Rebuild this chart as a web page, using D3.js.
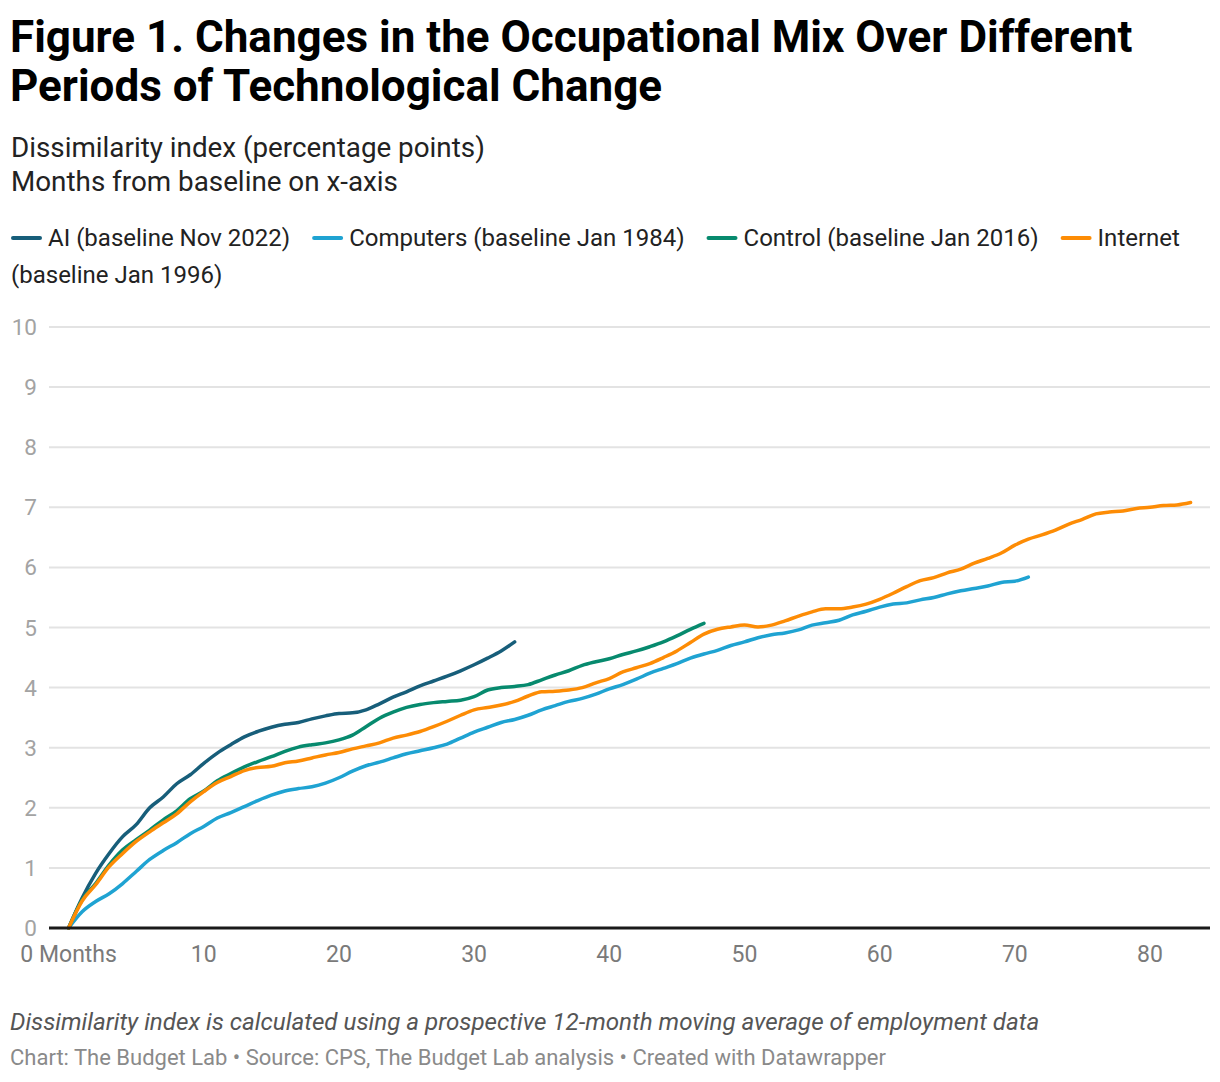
<!DOCTYPE html>
<html>
<head>
<meta charset="utf-8">
<script src="https://cdn.jsdelivr.net/npm/d3@7"></script>
<style>
  html, body { margin: 0; padding: 0; background: #fff; }
  svg { display: block; font-family: Roboto, "Noto Sans", sans-serif; }
</style>
</head>
<body>
<svg id="chart" width="1220" height="1082"></svg>
<script>
// months from baseline
const seriesNames = ["AI (baseline Nov 2022)", "Computers (baseline Jan 1984)", "Control (baseline Jan 2016)", "Internet (baseline Jan 1996)"];
const seriesColors = ["#175e7a", "#1fa3d2", "#078a6e", "#fd8c05"];

const aiValues = [0, 0.50, 0.91, 1.24, 1.52, 1.72, 2.00, 2.18, 2.40, 2.55, 2.74, 2.91, 3.05, 3.18, 3.27, 3.34, 3.39, 3.42, 3.48, 3.53,
  3.57, 3.58, 3.63, 3.73, 3.84, 3.93, 4.03, 4.11, 4.19, 4.28, 4.38, 4.49, 4.61, 4.76];

const computersValues = [0, 0.27, 0.44, 0.57, 0.74, 0.94, 1.14, 1.29, 1.42, 1.57,
  1.69, 1.83, 1.92, 2.02, 2.12, 2.21, 2.28, 2.32, 2.35, 2.41,
  2.50, 2.61, 2.70, 2.76, 2.83, 2.90, 2.95, 3.00, 3.06, 3.16,
  3.26, 3.34, 3.42, 3.47, 3.54, 3.63, 3.70, 3.77, 3.82, 3.89,
  3.98, 4.05, 4.14, 4.24, 4.32, 4.40, 4.49, 4.56, 4.62, 4.70,
  4.76, 4.83, 4.88, 4.91, 4.96, 5.04, 5.08, 5.12, 5.21, 5.27,
  5.34, 5.39, 5.41, 5.46, 5.50, 5.56, 5.61, 5.65, 5.69, 5.75,
  5.77, 5.84];

const controlValues = [0, 0.47, 0.74, 1.05, 1.30, 1.47, 1.63, 1.80, 1.95, 2.15,
  2.28, 2.45, 2.57, 2.68, 2.77, 2.85, 2.94, 3.01, 3.05, 3.08,
  3.13, 3.21, 3.35, 3.49, 3.59, 3.67, 3.72, 3.75, 3.77, 3.79,
  3.85, 3.96, 4.00, 4.02, 4.05, 4.13, 4.21, 4.28, 4.37, 4.43,
  4.48, 4.55, 4.61, 4.68, 4.76, 4.86, 4.97, 5.07];

const internetValues = [0, 0.45, 0.72, 1.02, 1.24, 1.44, 1.60, 1.75, 1.90, 2.10,
  2.27, 2.42, 2.52, 2.62, 2.67, 2.69, 2.75, 2.78, 2.83, 2.88,
  2.92, 2.98, 3.03, 3.08, 3.16, 3.21, 3.27, 3.35, 3.44, 3.54,
  3.63, 3.67, 3.71, 3.77, 3.86, 3.93, 3.94, 3.96, 4.00, 4.08,
  4.15, 4.26, 4.33, 4.40, 4.50, 4.61, 4.75, 4.89, 4.97, 5.01,
  5.04, 5.01, 5.04, 5.11, 5.19, 5.26, 5.31, 5.31, 5.34, 5.39,
  5.47, 5.57, 5.68, 5.78, 5.83, 5.91, 5.97, 6.07, 6.15, 6.24,
  6.37, 6.47, 6.54, 6.62, 6.72, 6.80, 6.89, 6.92, 6.94, 6.98,
  7.00, 7.03, 7.04, 7.08];

const xTicks = [0, 10, 20, 30, 40, 50, 60, 70, 80];
const yTicks = [0, 1, 2, 3, 4, 5, 6, 7, 8, 9, 10];

const allSeries = [aiValues, computersValues, controlValues, internetValues];

const svg = d3.select('#chart');
const plotLeft = 49, plotRight = 1210;

const x = d3.scaleLinear().domain([0, 80]).range([68.6, 1150]);
const y = d3.scaleLinear().domain([0, 10]).range([928, 327]);

// title + subtitle
const title = svg.append('g').attr('font-weight', 700).attr('font-size', 44).attr('fill', '#000');
title.append('text').attr('x', 10).attr('y', 52).text('Figure 1. Changes in the Occupational Mix Over Different');
title.append('text').attr('x', 10).attr('y', 101).text('Periods of Technological Change');

const sub = svg.append('g').attr('font-size', 27.8).attr('fill', '#222');
sub.append('text').attr('x', 11).attr('y', 157).text('Dissimilarity index (percentage points)');
sub.append('text').attr('x', 11).attr('y', 191).text('Months from baseline on x-axis');

// legend, flows like inline text and wraps word by word
const legend = svg.append('g').attr('font-size', 24).attr('fill', '#222');
let lx = 11, ly = 246;
const lineH = 37, maxX = 1210;
const measure = legend.append('text').attr('visibility', 'hidden');
const textWidth = s => { measure.text(s); return measure.node().getComputedTextLength(); };

seriesNames.forEach((name, i) => {
  if (lx + 40 > maxX) { lx = 11; ly += lineH; }
  legend.append('line')
    .attr('x1', lx + 2).attr('x2', lx + 29)
    .attr('y1', ly - 8).attr('y2', ly - 8)
    .attr('stroke', seriesColors[i]).attr('stroke-width', 4)
    .attr('stroke-linecap', 'round');
  lx += 37;
  const words = name.split(' ');
  let chunk = '', chunkX = lx;
  words.forEach(w => {
    const test = chunk ? chunk + ' ' + w : w;
    if (chunkX + textWidth(test) > maxX && chunk) {
      legend.append('text').attr('x', chunkX).attr('y', ly).text(chunk);
      ly += lineH; chunkX = 11; chunk = w;
    } else chunk = test;
  });
  legend.append('text').attr('x', chunkX).attr('y', ly).text(chunk);
  lx = chunkX + textWidth(chunk) + 22;
});
measure.remove();

// gridlines + y labels
const grid = svg.append('g');
grid.selectAll('line')
  .data(yTicks.filter(d => d > 0))
  .enter()
  .append('line')
  .attr('x1', plotLeft).attr('x2', plotRight)
  .attr('y1', d => y(d)).attr('y2', d => y(d))
  .attr('stroke', '#e3e3e3').attr('stroke-width', 2);

svg.append('g')
  .selectAll('text')
  .data(yTicks)
  .enter()
  .append('text')
  .attr('x', 37).attr('y', d => y(d) + 8)
  .attr('text-anchor', 'end')
  .attr('font-size', 22.5)
  .attr('fill', '#a3a3a3')
  .text(d => d);

// x labels
svg.append('g')
  .selectAll('text')
  .data(xTicks)
  .enter()
  .append('text')
  .attr('x', d => x(d)).attr('y', 962)
  .attr('text-anchor', 'middle')
  .attr('font-size', 23)
  .attr('fill', '#7a7a7a')
  .text(d => d === 0 ? '0 Months' : d);

// lines
const line = d3.line()
  .x((d, i) => x(i))
  .y(d => y(d))
  .curve(d3.curveMonotoneX);

svg.append('g')
  .selectAll('path')
  .data(allSeries)
  .enter()
  .append('path')
  .attr('d', line)
  .attr('fill', 'none')
  .attr('stroke', (d, i) => seriesColors[i])
  .attr('stroke-width', 3.5)
  .attr('stroke-linejoin', 'round')
  .attr('stroke-linecap', 'round');

// baseline
svg.append('line')
  .attr('x1', plotLeft).attr('x2', plotRight)
  .attr('y1', y(0)).attr('y2', y(0))
  .attr('stroke', '#1a1a1a').attr('stroke-width', 3);

// footer
svg.append('text')
  .attr('x', 10).attr('y', 1030)
  .attr('font-size', 24.2).attr('font-style', 'italic').attr('fill', '#555')
  .text('Dissimilarity index is calculated using a prospective 12-month moving average of employment data');
svg.append('text')
  .attr('x', 10).attr('y', 1065)
  .attr('font-size', 22).attr('fill', '#8a8a8a')
  .text('Chart: The Budget Lab • Source: CPS, The Budget Lab analysis • Created with Datawrapper');
</script>
</body>
</html>
